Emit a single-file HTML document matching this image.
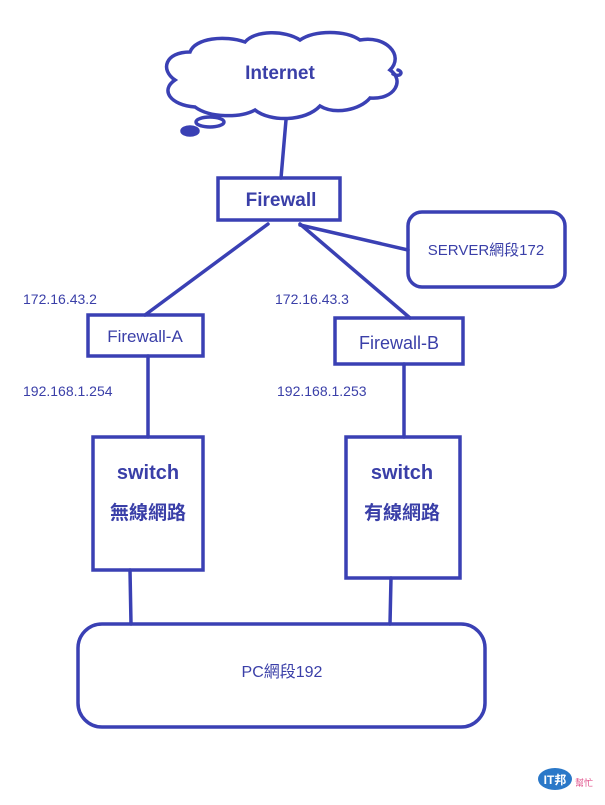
<!DOCTYPE html>
<html><head><style>
body{margin:0;background:#fff;width:605px;height:800px;overflow:hidden}
svg text{font-family:"Liberation Sans","Noto Sans CJK TC",sans-serif;fill:#3a3fa8}
</style></head><body>
<svg width="605" height="800" viewBox="0 0 605 800" xmlns="http://www.w3.org/2000/svg">
<g fill="none" stroke="#3a40b4" stroke-width="3.5" stroke-linecap="round">
<path d="M195,107 C170,105 160,90 175,80 C160,70 165,52 190,52 C195,38 225,35 245,42 C255,30 285,30 300,40 C315,30 345,30 360,40 C385,35 405,55 390,70 C405,80 395,100 370,98 C360,110 335,115 320,106 C305,122 270,122 255,110 C240,118 210,118 195,107 Z"/>
<path d="M398,70 C404,72 400,78 393,74"/>
<ellipse cx="210" cy="122" rx="14" ry="5"/>
<ellipse cx="190" cy="131" rx="8" ry="4" fill="#3a40b4"/>
<line x1="286" y1="120" x2="281" y2="178"/>
<rect x="218" y="178" width="122" height="42"/>
<line x1="268" y1="224" x2="145" y2="315"/>
<line x1="300" y1="224" x2="410" y2="318"/>
<line x1="300" y1="225" x2="408" y2="250"/>
<rect x="408" y="212" width="157" height="75" rx="14"/>
<rect x="88" y="315" width="115" height="41"/>
<rect x="335" y="318" width="128" height="46"/>
<line x1="148" y1="356" x2="148" y2="437"/>
<line x1="404" y1="364" x2="404" y2="437"/>
<rect x="93" y="437" width="110" height="133"/>
<rect x="346" y="437" width="114" height="141"/>
<line x1="130" y1="570" x2="131" y2="624"/>
<line x1="391" y1="578" x2="390" y2="624"/>
<rect x="78" y="624" width="407" height="103" rx="24"/>
</g>
<text x="280" y="79" font-size="19" font-weight="bold" text-anchor="middle">Internet</text>
<text x="281" y="206" font-size="19" font-weight="bold" text-anchor="middle">Firewall</text>
<text x="486" y="255" font-size="15" text-anchor="middle">SERVER網段172</text>
<text x="145" y="342" font-size="17" text-anchor="middle">Firewall-A</text>
<text x="399" y="349" font-size="18" text-anchor="middle">Firewall-B</text>
<text x="23" y="304" font-size="14">172.16.43.2</text>
<text x="275" y="304" font-size="14">172.16.43.3</text>
<text x="23" y="396" font-size="14">192.168.1.254</text>
<text x="277" y="396" font-size="14">192.168.1.253</text>
<text x="148" y="479" font-size="20" font-weight="bold" text-anchor="middle">switch</text>
<text x="148" y="519" font-size="19" font-weight="bold" text-anchor="middle">無線網路</text>
<text x="402" y="479" font-size="20" font-weight="bold" text-anchor="middle">switch</text>
<text x="402" y="519" font-size="19" font-weight="bold" text-anchor="middle">有線網路</text>
<text x="282" y="677" font-size="16" text-anchor="middle">PC網段192</text>
<ellipse cx="555" cy="779" rx="17" ry="11" fill="#2a78c8"/>
<text x="555" y="784" font-size="12" font-weight="bold" text-anchor="middle" style="fill:#fff">IT邦</text>
<text x="584" y="786" font-size="9" text-anchor="middle" style="fill:#e0508a">幫忙</text>
</svg>
</body></html>
